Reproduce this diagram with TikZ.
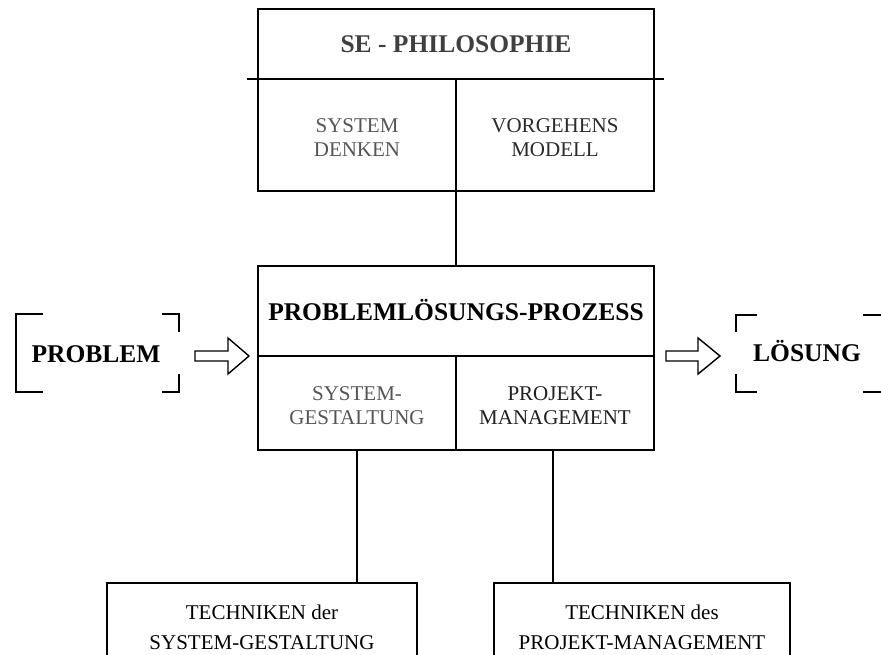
\documentclass[tikz,border=0pt]{standalone}
\usepackage{fontspec}
\setmainfont{Liberation Serif}
\newcommand\cellfont{\fontsize{21}{24}\selectfont}
\newcommand\techfont{\fontsize{21}{30}\selectfont}
\newcommand\headfont{\fontsize{25.5}{29}\selectfont\bfseries}
\definecolor{inkA}{HTML}{3F3F3F}
\definecolor{inkB}{HTML}{555555}
\definecolor{inkC}{HTML}{2A2A2A}
\definecolor{inkD}{HTML}{202020}
\begin{document}
\begin{tikzpicture}[x=1pt,y=-1pt,line width=1.7pt,
  box/.style={draw,line width=1.7pt,inner sep=0pt},
  cell/.style={inner sep=0pt,align=center,font=\cellfont},
  tech/.style={inner sep=0pt,align=center,font=\techfont},
  head/.style={inner sep=0pt,anchor=base,font=\headfont},
  hollow/.style={draw,line width=1.4pt,fill=white,line join=miter}]
\useasboundingbox (0,0) rectangle (881,655);
\clip (0,0) rectangle (881,655);

% --- SE philosophy box ---
\node[box,minimum width=396pt,minimum height=182pt] (phil) at (456,100) {};
\coordinate (philL) at (247,79);
\coordinate (philR) at (664,79);
\coordinate (philM) at (456,79);
\draw (philL) -- (philR);
\draw (philM) -- (phil.south);
\node[head,text=inkA] (philT) at (456,53) {SE - PHILOSOPHIE};
\node[cell,text=inkB] (sysdenk) at (357,138) {SYSTEM\\DENKEN};
\node[cell,text=inkC] (vorg) at (555,138) {VORGEHENS\\MODELL};

% --- problem solving process box ---
\node[box,minimum width=396pt,minimum height=184pt] (proc) at (456,358) {};
\coordinate (procL) at (258,356);
\coordinate (procR) at (654,356);
\coordinate (procM) at (456,356);
\draw (procL) -- (procR);
\draw (procM) -- (proc.south);
\node[head] (procT) at (456,320) {PROBLEMLÖSUNGS-PROZESS};
\node[cell,text=inkB] (sysgest) at (357,406) {SYSTEM-\\GESTALTUNG};
\node[cell,text=inkD] (projm) at (555,406) {PROJEKT-\\MANAGEMENT};

% link between the two main boxes
\draw (phil.south) -- (proc.north);

% --- technique boxes ---
\node[box,minimum width=310pt,minimum height=140pt] (techS) at (262,653) {};
\node[box,minimum width=296pt,minimum height=140pt] (techP) at (642,653) {};
\node[tech] (techST) at (262,627) {TECHNIKEN der\\SYSTEM-GESTALTUNG};
\node[tech] (techPT) at (642,627) {TECHNIKEN des\\PROJEKT-MANAGEMENT};
\coordinate (downS) at (357,450);
\coordinate (downP) at (553,450);
\draw (downS) -- (downS |- techS.north);
\draw (downP) -- (downP |- techP.north);

% --- problem (input) ---
\node[head] (prob) at (96,362) {PROBLEM};
\draw (43,314) -- (16,314) -- (16,392) -- (43,392);
\draw (162,314) -- (179,314) -- (179,332);
\draw (179,374) -- (179,392) -- (162,392);

% --- solution (output) ---
\node[head] (sol) at (807,361) {LÖSUNG};
\draw (757,315) -- (736,315) -- (736,332);
\draw (736,374) -- (736,392) -- (757,392);
\draw (863,315) -- (881,315);
\draw (863,392) -- (881,392);

% --- hollow arrows ---
\draw[hollow] (195,351) -- (228,351) -- (228,338) -- (249,356)
  -- (228,374) -- (228,361) -- (195,361) -- cycle;
\draw[hollow] (666,351) -- (698,351) -- (698,338) -- (720,356)
  -- (698,374) -- (698,361) -- (666,361) -- cycle;
\end{tikzpicture}
\end{document}
